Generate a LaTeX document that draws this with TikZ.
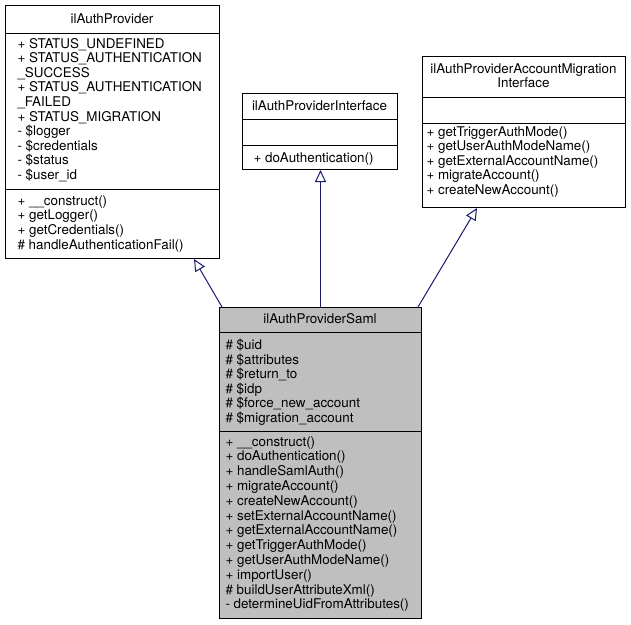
\documentclass[tikz,border=0pt]{standalone}
\usepackage{fontspec}
\setmainfont{TeX Gyre Heros}
\usepackage{tikz}
\usetikzlibrary{arrows.meta}
\usetikzlibrary{calc}
\definecolor{edgeblue}{HTML}{191970}
\definecolor{boxgray}{HTML}{BFBFBF}
\newcommand{\umlfont}{\fontsize{13.4}{14.5}\selectfont}
\tikzset{every picture/.style={line width=1pt,x=1pt,y=-1pt},
  classbox/.style={draw=black,fill=white,inner sep=0pt,anchor=north west},
  classname/.style={anchor=base,inner sep=0pt,font=\umlfont},
  member/.style={anchor=base west,inner sep=0pt,font=\umlfont},
  inherit/.style={draw=edgeblue,-{Triangle[open,length=12pt,width=11pt]}}}

\begin{document}
\begin{tikzpicture}
\useasboundingbox (0,0) rectangle (631,624);
% ilAuthProvider
\node[classbox,minimum width=214,minimum height=253] (prov) at (5,5) {};
\node[classname] (provname) at (112,23) {ilAuthProvider};
\draw (5,33) -- (219,33);
\draw (5,189) -- (219,189);
\foreach \t [count=\i from 0] in {+ STATUS\_UNDEFINED,+ STATUS\_AUTHENTICATION,\_SUCCESS,+ STATUS\_AUTHENTICATION,\_FAILED,+ STATUS\_MIGRATION,- \$logger,- \$credentials,- \$status,- \$user\_id}
  \node[member] (provattr\i) at (17,48+14.6*\i) {\t};
\foreach \t [count=\i from 0] in {+ \_\_construct(),+ getLogger(),+ getCredentials(),\# handleAuthenticationFail()}
  \node[member] (provop\i) at (17,205+14.8*\i) {\t};
% ilAuthProviderInterface
\node[classbox,minimum width=155,minimum height=76] (iface) at (242,93) {};
\node[classname] (ifacename) at (319.5,110) {ilAuthProviderInterface};
\draw (242,119) -- (397,119);
\draw (242,145) -- (397,145);
\node[member] (ifaceop0) at (253,162) {+ doAuthentication()};
% ilAuthProviderAccountMigrationInterface
\node[classbox,minimum width=203,minimum height=151] (migr) at (422,56) {};
\node[classname] (migrname1) at (523.5,73) {ilAuthProviderAccountMigration};
\node[classname] (migrname2) at (523.5,87.5) {Interface};
\draw (422,97) -- (625,97);
\draw (422,123) -- (625,123);
\foreach \t [count=\i from 0] in {+ getTriggerAuthMode(),+ getUserAuthModeName(),+ getExternalAccountName(),+ migrateAccount(),+ createNewAccount()}
  \node[member] (migrop\i) at (426,136+14.5*\i) {\t};
% ilAuthProviderSaml
\node[classbox,fill=boxgray,minimum width=202,minimum height=311] (saml) at (219,307) {};
\node[classname] (samlname) at (320,323) {ilAuthProviderSaml};
\draw (219,332) -- (421,332);
\draw (219,431) -- (421,431);
\foreach \t [count=\i from 0] in {\# \$uid,\# \$attributes,\# \$return\_to,\# \$idp,\# \$force\_new\_account,\# \$migration\_account}
  \node[member] (samlattr\i) at (225,349.5+14.5*\i) {\t};
\foreach \t [count=\i from 0] in {+ \_\_construct(),+ doAuthentication(),+ handleSamlAuth(),+ migrateAccount(),+ createNewAccount(),+ setExternalAccountName(),+ getExternalAccountName(),+ getTriggerAuthMode(),+ getUserAuthModeName(),+ importUser(),\# buildUserAttributeXml(),- determineUidFromAttributes()}
  \node[member] (samlop\i) at (225,446+14.8*\i) {\t};
% generalisations
\draw[inherit] ($(saml.north west)+(3,0)$) -- ($(prov.south east)+(-26,0)$);
\draw[inherit] (saml.north) -- (saml.north |- iface.south);
\draw[inherit] ($(saml.north east)+(-4,0)$) -- ($(migr.south west)+(55,0)$);
\end{tikzpicture}
\end{document}
